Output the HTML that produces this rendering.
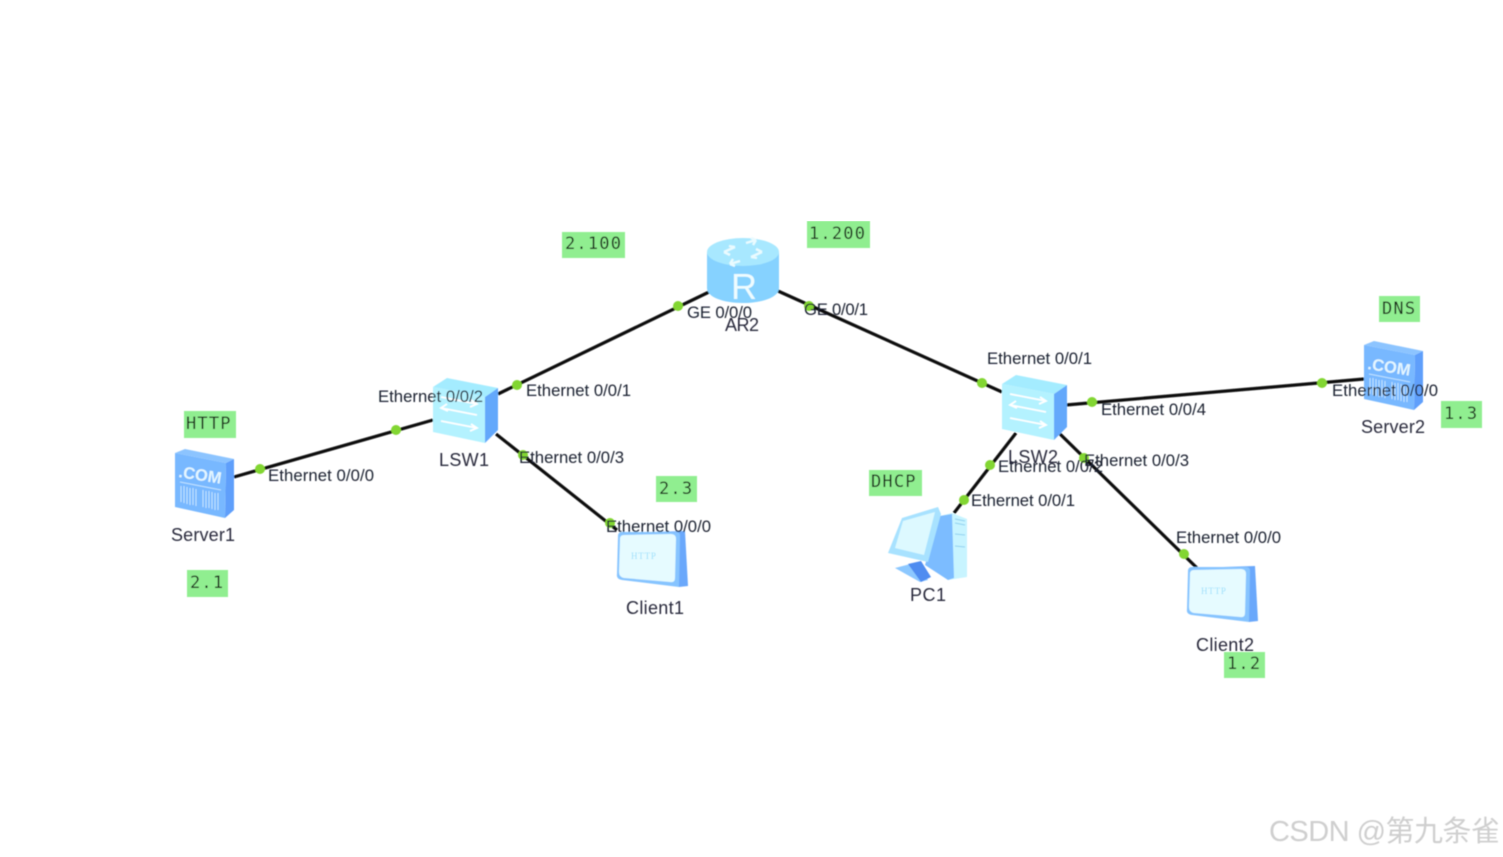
<!DOCTYPE html>
<html lang="zh">
<head>
<meta charset="utf-8">
<title>Network topology</title>
<style>
html,body{margin:0;padding:0;background:#fff;width:1503px;height:857px;overflow:hidden}
svg{display:block}
.l{font-family:"Liberation Sans",sans-serif;font-size:16.7px;fill:#1c2230}
.n{font-family:"Liberation Sans",sans-serif;font-size:18px;fill:#2a2c3c}
.g{font-family:"DejaVu Sans Mono","Liberation Mono",monospace;font-size:17px;letter-spacing:1.2px;fill:#182818}
.b{fill:#90ee90}
.w{font-family:"Liberation Sans","Noto Sans CJK SC",sans-serif;font-size:29px;fill:#cfcfcf}
#all{filter:url(#soft)}
</style>
</head>
<body>
<svg width="1503" height="857" viewBox="0 0 1503 857" xmlns="http://www.w3.org/2000/svg">
<defs>
<filter id="soft" x="0" y="0" width="100%" height="100%"><feGaussianBlur stdDeviation="0.45"/></filter>
</defs>
<rect width="1503" height="857" fill="#fff"/>
<g id="all">

<!-- connectors -->
<g stroke="#0c0c0c" stroke-width="3.2" fill="none">
<line x1="234" y1="477" x2="433" y2="420"/>
<line x1="498" y1="394" x2="709" y2="292"/>
<line x1="496" y1="434" x2="617" y2="530"/>
<line x1="778" y1="291" x2="1002" y2="392"/>
<line x1="1066" y1="405" x2="1364" y2="379"/>
<line x1="1016" y1="433" x2="954" y2="513"/>
<line x1="1060" y1="434" x2="1197" y2="568"/>
</g>

<!-- Server1 -->
<g>
<polygon points="175,453 185,449 234,459 226,463" fill="#8cc4ff"/>
<polygon points="226,463 234,459 234,510 225,518" fill="#5f9ffb"/>
<polygon points="175,453 226,463 225,518 175,507" fill="#78b8ff"/>
<text x="178" y="477" transform="rotate(9 178 477)" font-family="Liberation Sans,sans-serif" font-weight="700" font-size="16.5" fill="#e4f6ff">.COM</text>
<g stroke="#c4e4ff" stroke-width="1" fill="none">
<line x1="180" y1="482" x2="221" y2="490"/>
<path d="M181 486v16M184 486v17M187 487v17M190 488v17M193 488v17M196 489v17M203 490v17M206 491v17M209 491v17M212 492v17M215 493v17M218 493v17"/>
</g>
</g>

<!-- Server2 -->
<g transform="translate(1189,-108)">
<polygon points="175,453 185,449 234,459 226,463" fill="#8cc4ff"/>
<polygon points="226,463 234,459 234,510 225,518" fill="#5f9ffb"/>
<polygon points="175,453 226,463 225,518 175,507" fill="#78b8ff"/>
<text x="178" y="477" transform="rotate(9 178 477)" font-family="Liberation Sans,sans-serif" font-weight="700" font-size="16.5" fill="#e4f6ff">.COM</text>
<g stroke="#c4e4ff" stroke-width="1" fill="none">
<line x1="180" y1="482" x2="221" y2="490"/>
<path d="M181 486v16M184 486v17M187 487v17M190 488v17M193 488v17M196 489v17M203 490v17M206 491v17M209 491v17M212 492v17M215 493v17M218 493v17"/>
</g>
</g>

<!-- LSW1 -->
<g>
<polygon points="433,387 447,378 498,388 485,397" fill="#a4ecff"/>
<polygon points="485,397 498,388 498,430 485,443" fill="#64a8fb"/>
<polygon points="433,387 485,397 485,443 433,432" fill="#b4f2ff"/>
<g stroke="#fff" stroke-width="1.8" fill="none">
<path d="M441 397l36 7M471 400l6 4-7 3"/>
<path d="M477 415l-36-7M447 404l-6 4 7 3"/>
<path d="M441 421l36 7M471 424l6 4-7 3"/>
</g>
</g>

<!-- LSW2 -->
<g transform="translate(569,-3)">
<polygon points="433,387 447,378 498,388 485,397" fill="#a4ecff"/>
<polygon points="485,397 498,388 498,430 485,443" fill="#64a8fb"/>
<polygon points="433,387 485,397 485,443 433,432" fill="#b4f2ff"/>
<g stroke="#fff" stroke-width="1.8" fill="none">
<path d="M441 397l36 7M471 400l6 4-7 3"/>
<path d="M477 415l-36-7M447 404l-6 4 7 3"/>
<path d="M441 421l36 7M471 424l6 4-7 3"/>
</g>
</g>

<!-- AR2 router -->
<g>
<path d="M707 252v36c0 9 16 15 36 15s36-6 36-15v-36z" fill="#86d2ff"/>
<ellipse cx="743" cy="252" rx="36" ry="14" fill="#a8e8ff"/>
<g stroke="#eafbff" stroke-width="2.4" fill="none">
<path d="M724 252l11-5M724 252l6 3M735 247l-6-1"/>
<path d="M762 252l-11 5M762 252l-6-3M751 257l6 1"/>
<path d="M746 243l10-3M756 240l-3 5M756 240l-5-2"/>
<path d="M740 261l-10 3M730 264l3-5M730 264l5 2"/>
</g>
<text x="744" y="299" text-anchor="middle" font-family="Liberation Sans,sans-serif" font-size="36" fill="#eefcff">R</text>
</g>

<!-- Client1 -->
<g>
<polygon points="620,533 685,531 688,586 679,587" fill="#6aa8fb"/>
<path d="M622 532 L676 532 Q680 532 680 536 L679 587 L622 580 Q616 579 617 574 L618 536 Q618 532 622 532z" fill="#86c4ff"/>
<path d="M624 535 L671 534 Q676 534 676 539 L675 578 Q675 583 670 582 L624 578 Q619 577 619 572 L620 539 Q620 535 624 535z" fill="#e6fbff"/>
<text x="631" y="559" font-family="Liberation Serif,serif" font-size="9" letter-spacing=".8" fill="#9ce0fb">HTTP</text>
</g>

<!-- Client2 -->
<g transform="translate(570,35)">
<polygon points="620,533 685,531 688,586 679,587" fill="#6aa8fb"/>
<path d="M622 532 L676 532 Q680 532 680 536 L679 587 L622 580 Q616 579 617 574 L618 536 Q618 532 622 532z" fill="#86c4ff"/>
<path d="M624 535 L671 534 Q676 534 676 539 L675 578 Q675 583 670 582 L624 578 Q619 577 619 572 L620 539 Q620 535 624 535z" fill="#e6fbff"/>
<text x="631" y="559" font-family="Liberation Serif,serif" font-size="9" letter-spacing=".8" fill="#9ce0fb">HTTP</text>
</g>

<!-- PC1 -->
<g>
<polygon points="940,516 952,513 967,519 967,577 948,580" fill="#c8f4ff"/>
<polygon points="940,516 952,514 954,578 948,580 925,565" fill="#7cbcff"/>
<g stroke="#8fd0f0" stroke-width="1" fill="none">
<path d="M955 519l10 2M955 523l10 2M955 534l10 1M955 546l10 1"/>
</g>
<polygon points="895,568 918,562 928,580 920,582" fill="#8cc8ff"/>
<polygon points="908,564 921,561 931,577 921,582" fill="#4f8cf0"/>
<polygon points="888,553 902,518 938,507 941,514 928,562" fill="#a8e2ff"/>
<polygon points="895,548 903,521 935,512 924,555" fill="#ddf9ff"/>
</g>

<!-- port dots -->
<g fill="#82d632">
<circle cx="260" cy="469" r="5"/>
<circle cx="396" cy="430" r="5"/>
<circle cx="517" cy="385" r="5"/>
<circle cx="678" cy="306" r="5"/>
<circle cx="809" cy="306" r="5"/>
<circle cx="982" cy="383" r="5"/>
<circle cx="1092" cy="402" r="5"/>
<circle cx="1322" cy="383" r="5"/>
<circle cx="990" cy="465" r="5"/>
<circle cx="964" cy="500" r="5"/>
<circle cx="1084" cy="458" r="5"/>
<circle cx="1184" cy="554" r="5"/>
<circle cx="610" cy="523" r="5"/>
<circle cx="523" cy="455" r="5"/>
</g>

<!-- interface labels -->
<g>
<text class="l" x="268" y="481" textLength="106">Ethernet 0/0/0</text>
<text class="l" x="378" y="402" textLength="105">Ethernet 0/0/2</text>
<text class="l" x="526" y="396" textLength="105">Ethernet 0/0/1</text>
<text class="l" x="519" y="463" textLength="105">Ethernet 0/0/3</text>
<text class="l" x="606" y="532" textLength="105">Ethernet 0/0/0</text>
<text class="l" x="687" y="318" textLength="65">GE 0/0/0</text>
<text class="l" x="804" y="315" textLength="64">GE 0/0/1</text>
<text class="l" x="987" y="364" textLength="105">Ethernet 0/0/1</text>
<text class="l" x="1101" y="415" textLength="105">Ethernet 0/0/4</text>
<text class="l" x="1332" y="396" textLength="106">Ethernet 0/0/0</text>
<text class="l" x="998" y="472" textLength="105">Ethernet 0/0/2</text>
<text class="l" x="1084" y="466" textLength="105">Ethernet 0/0/3</text>
<text class="l" x="971" y="506" textLength="104">Ethernet 0/0/1</text>
<text class="l" x="1176" y="543" textLength="105">Ethernet 0/0/0</text>
</g>

<!-- device names -->
<text class="n" x="171" y="541" textLength="64">Server1</text>
<text class="n" x="439" y="466" textLength="50">LSW1</text>
<text class="n" x="725" y="331" textLength="34">AR2</text>
<text class="n" x="626" y="614" textLength="58">Client1</text>
<text class="n" x="1008" y="463" textLength="50">LSW2</text>
<text class="n" x="910" y="601" textLength="36">PC1</text>
<text class="n" x="1361" y="433" textLength="64">Server2</text>
<text class="n" x="1196" y="651" textLength="58">Client2</text>

<!-- green note boxes -->
<rect class="b" x="184" y="411" width="52" height="27"/>
<text class="g" x="186" y="429">HTTP</text>
<rect class="b" x="187" y="570" width="41" height="27"/>
<text class="g" x="190" y="588">2.1</text>
<rect class="b" x="562" y="232" width="63" height="26"/>
<text class="g" x="565" y="249">2.100</text>
<rect class="b" x="807" y="221" width="63" height="27"/>
<text class="g" x="809" y="239">1.200</text>
<rect class="b" x="656" y="476" width="41" height="26"/>
<text class="g" x="659" y="494">2.3</text>
<rect class="b" x="869" y="470" width="53" height="26"/>
<text class="g" x="871" y="487">DHCP</text>
<rect class="b" x="1379" y="296" width="41" height="26"/>
<text class="g" x="1382" y="314">DNS</text>
<rect class="b" x="1441" y="401" width="41" height="27"/>
<text class="g" x="1444" y="419">1.3</text>
<rect class="b" x="1224" y="652" width="41" height="26"/>
<text class="g" x="1227" y="669">1.2</text>

<!-- watermark -->
<text class="w" x="1269" y="841" textLength="231">CSDN @第九条雀</text>
</g>
</svg>
</body>
</html>
